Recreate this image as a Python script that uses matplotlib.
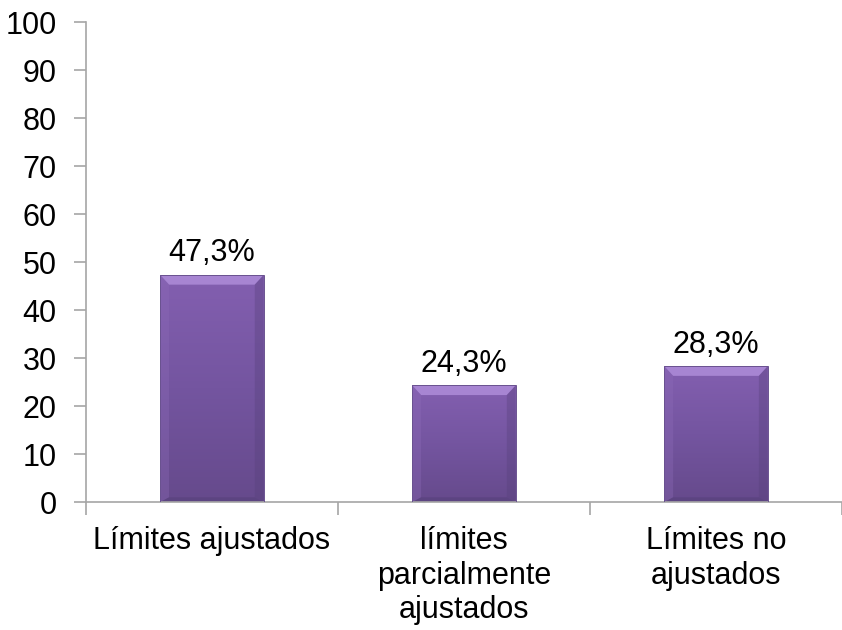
import numpy as np
import matplotlib.pyplot as plt
from matplotlib.patches import Polygon
from matplotlib.colors import LinearSegmentedColormap

plt.rcParams['font.family'] = ['Liberation Sans', 'DejaVu Sans']

categories = ['Límites ajustados', 'límites\nparcialmente\najustados', 'Límites no\najustados']
values = [47.3, 24.3, 28.3]
labels = ['47,3%', '24,3%', '28,3%']

fig = plt.figure(figsize=(8.42, 6.30), dpi=100)
ax = fig.add_axes([0.102, 0.203, 0.898, 0.762])

x = np.arange(len(values))
width = 0.41
ax.set_xlim(-0.5, len(values) - 0.5)
ax.set_ylim(0, 100)

grad = LinearSegmentedColormap.from_list('bar', ['#664a8c', '#7455a0', '#835fb0'])
gy = np.linspace(0, 1, 100).reshape(-1, 1)

bars = ax.bar(x, values, width, color='none', edgecolor='#6a5290', linewidth=0.7, zorder=3)
for b, v, lab in zip(bars, values, labels):
    x0 = b.get_x()
    x1 = x0 + b.get_width()
    im = ax.imshow(gy, cmap=grad, extent=[x0, x1, 0, v], origin='lower',
                   aspect='auto', zorder=2)
    im.set_clip_path(b)
    # soft bevel around the bar face
    dx = 0.035
    dy = 2.0
    ax.add_patch(Polygon([[x0, v], [x1, v], [x1 - dx, v - dy], [x0 + dx, v - dy]],
                         closed=True, facecolor='#a785d2', edgecolor='none', zorder=2.5))
    ax.add_patch(Polygon([[x0, v], [x0 + dx, v - dy], [x0 + dx, dy * 0.5], [x0, 0]],
                         closed=True, facecolor='#8d6bb8', edgecolor='none', alpha=0.35, zorder=2.5))
    ax.add_patch(Polygon([[x1, v], [x1 - dx, v - dy], [x1 - dx, dy * 0.5], [x1, 0]],
                         closed=True, facecolor='#56407a', edgecolor='none', alpha=0.35, zorder=2.5))
    ax.add_patch(Polygon([[x0, 0], [x1, 0], [x1 - dx, dy * 0.5], [x0 + dx, dy * 0.5]],
                         closed=True, facecolor='#56407a', edgecolor='none', alpha=0.6, zorder=2.5))
    ax.text(b.get_x() + b.get_width() / 2, v + 1.4, lab,
            ha='center', va='bottom', fontsize=22, color='#000000')

ax.set_xticks(x)
ax.set_xticklabels(categories, fontsize=22, linespacing=1.18)
ax.tick_params(axis='x', length=0, pad=17.5)
ax.set_xticks(np.arange(len(values) + 1) - 0.5, minor=True)
ax.tick_params(axis='x', which='minor', length=9, color='#a6a6a6', width=1.2)

ax.set_yticks(np.arange(0, 101, 10))
ax.tick_params(axis='y', labelsize=22, length=9, color='#a6a6a6', width=1.2, pad=12)

for side in ['top', 'right']:
    ax.spines[side].set_visible(False)
for side in ['left', 'bottom']:
    ax.spines[side].set_color('#a6a6a6')
    ax.spines[side].set_linewidth(1.2)

fig.savefig('out.png', dpi=100)
